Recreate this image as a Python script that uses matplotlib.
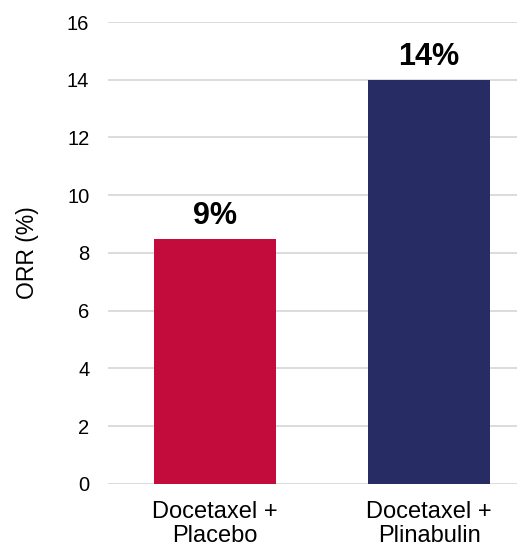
import matplotlib
matplotlib.use("Agg")
import matplotlib.pyplot as plt

categories = ['Docetaxel +\nPlacebo', 'Docetaxel +\nPlinabulin']
orr = [8.5, 14.0]
labels = ['9%', '14%']
colors = ['#C40C3C', '#282C64']

plt.rcParams['font.family'] = ['Liberation Sans', 'DejaVu Sans']

fig = plt.figure(figsize=(5.17, 5.46), dpi=100)
ax = fig.add_axes([0.209, 0.1136, 0.791, 0.8461])

x = range(len(categories))
bars = ax.bar(x, orr, width=0.57, color=colors, zorder=3)

for b, lab in zip(bars, labels):
    ax.annotate(lab, (b.get_x() + b.get_width() / 2, b.get_height()),
                xytext=(0, 5.5), textcoords='offset points',
                ha='center', va='bottom', fontsize=22, fontweight='bold')

ax.set_ylim(0, 16)
ax.set_xlim(-0.5, 1.411)
ax.set_yticks(range(0, 17, 2))
ax.set_xticks(list(x))
ax.set_xticklabels(categories, fontsize=17, linespacing=1.15)
ax.tick_params(axis='y', labelsize=14.5, length=0, pad=13.5)
ax.tick_params(axis='x', length=0, pad=12)
ax.grid(axis='y', color='#D9D9D9', linewidth=1.3, zorder=0)
for s in ax.spines.values():
    s.set_visible(False)
ax.set_ylabel('ORR (%)', fontsize=16.5, labelpad=20)

fig.savefig('out.png', dpi=100)
